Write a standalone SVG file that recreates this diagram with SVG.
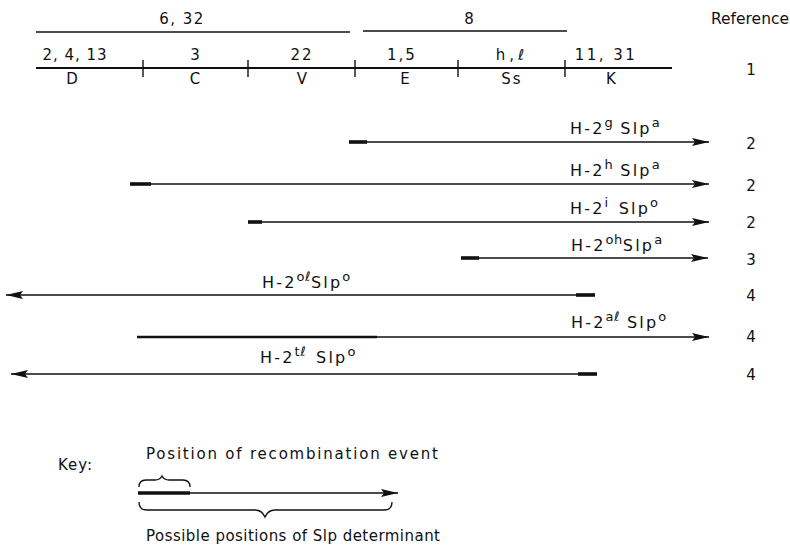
<svg xmlns="http://www.w3.org/2000/svg" width="790" height="545" viewBox="0 0 790 545">
<style>
text{font-family:"DejaVu Sans","Liberation Sans",sans-serif;font-size:15px;fill:#111}
.lbl{font-size:16px;letter-spacing:2.2px}
.sup{font-size:13px;letter-spacing:0.5px}
.ln{stroke:#111;stroke-width:1.6;fill:none}
.thick{stroke:#111;stroke-width:3.6;fill:none}
.br{stroke:#111;stroke-width:1.3;fill:none}
.mid{text-anchor:middle}
</style>
<defs>
<marker id="ah" markerUnits="userSpaceOnUse" markerWidth="18" markerHeight="10" refX="17" refY="5" orient="auto">
<path d="M0,1 L17,5 L0,9 L3,5 Z" fill="#111"/>
</marker>
</defs>
<rect width="790" height="545" fill="#fff"/>

<g id="map">
<line class="ln" x1="36" y1="32" x2="350" y2="32"/>
<line class="ln" x1="363" y1="31" x2="567" y2="31"/>
<text class="mid" x="182" y="24" letter-spacing="1.5">6, 32</text>
<text class="mid" x="469" y="24">8</text>
<line x1="36" y1="68" x2="672" y2="68" stroke="#111" stroke-width="2"/>
<g stroke="#111" stroke-width="1.4">
<line x1="143" y1="60" x2="143" y2="77"/>
<line x1="248" y1="60" x2="248" y2="77"/>
<line x1="355" y1="60" x2="355" y2="77"/>
<line x1="458" y1="60" x2="458" y2="77"/>
<line x1="565" y1="60" x2="565" y2="77"/>
</g>
<text class="mid" x="75" y="60" letter-spacing="1">2, 4, 13</text>
<text class="mid" x="195" y="60">3</text>
<text class="mid" x="302" y="60" letter-spacing="2">22</text>
<text class="mid" x="402" y="60" letter-spacing="2">1,5</text>
<text class="mid" x="512" y="60" letter-spacing="4">h,ℓ</text>
<text class="mid" x="606" y="60" letter-spacing="2.5">11, 31</text>
<text class="mid" x="72" y="84">D</text>
<text class="mid" x="195" y="84">C</text>
<text class="mid" x="302" y="84">V</text>
<text class="mid" x="405" y="84">E</text>
<text class="mid" x="512" y="84" letter-spacing="2">Ss</text>
<text class="mid" x="611" y="84">K</text>
</g>

<g id="refcol">
<text x="711" y="24" font-size="14" textLength="78" lengthAdjust="spacingAndGlyphs">Reference</text>
<text class="mid" x="751" y="75">1</text>
<text class="mid" x="751" y="149">2</text>
<text class="mid" x="751" y="191">2</text>
<text class="mid" x="751" y="228">2</text>
<text class="mid" x="751" y="265">3</text>
<text class="mid" x="751" y="301">4</text>
<text class="mid" x="751" y="342">4</text>
<text class="mid" x="751" y="380">4</text>
</g>

<g id="connectors">
<line class="ln" x1="349" y1="142" x2="709" y2="142" marker-end="url(#ah)"/>
<line class="thick" x1="349" y1="142" x2="367" y2="142"/>
<line class="ln" x1="130" y1="184" x2="709" y2="184" marker-end="url(#ah)"/>
<line class="thick" x1="130" y1="184" x2="151" y2="184"/>
<line class="ln" x1="248" y1="222" x2="709" y2="222" marker-end="url(#ah)"/>
<line class="thick" x1="248" y1="222" x2="262" y2="222" stroke-width="2.5"/>
<line class="ln" x1="461" y1="258" x2="708" y2="258" marker-end="url(#ah)"/>
<line class="thick" x1="461" y1="258" x2="479" y2="258"/>
<line class="ln" x1="595" y1="295" x2="6" y2="295" marker-end="url(#ah)"/>
<line class="thick" x1="576" y1="295" x2="595" y2="295"/>
<line class="ln" x1="137" y1="337" x2="709" y2="337" marker-end="url(#ah)"/>
<line x1="137" y1="337" x2="377" y2="337" stroke="#111" stroke-width="2.6"/>
<line class="ln" x1="597" y1="374" x2="11" y2="374" marker-end="url(#ah)"/>
<line class="thick" x1="578" y1="374" x2="597" y2="374"/>
</g>

<g id="row1"><text class="lbl" x="570" y="134">H-2<tspan class="sup" dy="-7">g</tspan><tspan dy="7" dx="7">Slp</tspan><tspan class="sup" dy="-7">a</tspan></text></g>
<g id="row2"><text class="lbl" x="570" y="176">H-2<tspan class="sup" dy="-7">h</tspan><tspan dy="7" dx="7">Slp</tspan><tspan class="sup" dy="-7">a</tspan></text></g>
<g id="row3"><text class="lbl" x="570" y="214">H-2<tspan class="sup" dy="-7">i</tspan><tspan dy="7" dx="10">Slp</tspan><tspan class="sup" dy="-7">o</tspan></text></g>
<g id="row4"><text class="lbl" x="571" y="251">H-2<tspan class="sup" dy="-7">oh</tspan><tspan dy="7">Slp</tspan><tspan class="sup" dy="-7">a</tspan></text></g>
<g id="row5"><text class="lbl" x="262" y="288">H-2<tspan class="sup" dy="-7">oℓ</tspan><tspan dy="7">Slp</tspan><tspan class="sup" dy="-7">o</tspan></text></g>
<g id="row6"><text class="lbl" x="571" y="328">H-2<tspan class="sup" dy="-7">aℓ</tspan><tspan dy="7" dx="7">Slp</tspan><tspan class="sup" dy="-7">o</tspan></text></g>
<g id="row7"><text class="lbl" x="260" y="363">H-2<tspan class="sup" dy="-7">tℓ</tspan><tspan dy="7" dx="10">Slp</tspan><tspan class="sup" dy="-7">o</tspan></text></g>

<g id="key">
<text x="58" y="470" letter-spacing="1">Key:</text>
<text x="146" y="459" textLength="292" lengthAdjust="spacing">Position of recombination event</text>
<path class="br" d="M139,487 Q139,480 146,480 L155,480 Q160,480 162,476 Q164,480 169,480 L183,480 Q190,480 190,487"/>
<line class="ln" x1="138" y1="493" x2="398" y2="493" marker-end="url(#ah)"/>
<line class="thick" x1="138" y1="493" x2="190" y2="493"/>
<path class="br" d="M139,502 Q139,510 147,510 L255,510 Q262,510 265,517 Q268,510 275,510 L384,510 Q392,510 392,502"/>
<text x="146" y="541" textLength="294" lengthAdjust="spacing">Possible positions of Slp determinant</text>
</g>
</svg>
